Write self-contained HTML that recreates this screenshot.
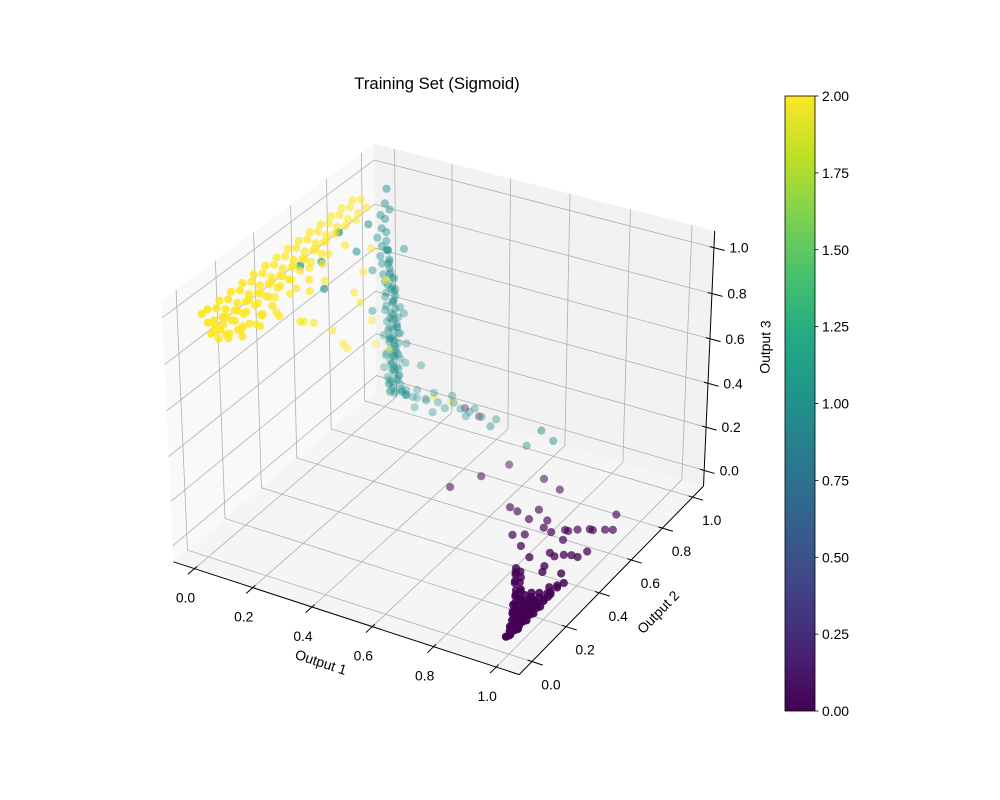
<!DOCTYPE html>
<html><head><meta charset="utf-8">
<style>
html,body{margin:0;padding:0;background:#fff;}
svg{display:block;font-family:"Liberation Sans","DejaVu Sans",sans-serif;}
</style></head>
<body>
<svg id="chart" width="1000" height="800" viewBox="0 0 1000 800" xmlns="http://www.w3.org/2000/svg">
<defs>
<linearGradient id="viridis" x1="0" y1="1" x2="0" y2="0">
<stop offset="0" stop-color="#440154"/><stop offset="0.1" stop-color="#482475"/>
<stop offset="0.2" stop-color="#414487"/><stop offset="0.3" stop-color="#355f8d"/>
<stop offset="0.4" stop-color="#2a788e"/><stop offset="0.5" stop-color="#21918c"/>
<stop offset="0.6" stop-color="#22a884"/><stop offset="0.7" stop-color="#44bf70"/>
<stop offset="0.8" stop-color="#7ad151"/><stop offset="0.9" stop-color="#bddf26"/>
<stop offset="1" stop-color="#fde725"/>
</linearGradient>
</defs>
<text x="437" y="89" font-size="16.7" text-anchor="middle">Training Set (Sigmoid)</text>
<g id="panes"></g>
<g id="grid"></g>
<g id="axes"></g>
<g id="points"></g>
<text x="321" y="667" font-size="13.9" text-anchor="middle" transform="rotate(18.2 321 662)">Output 1</text>
<text x="658" y="617" font-size="13.9" text-anchor="middle" transform="rotate(-46 658 612)">Output 2</text>
<text x="765" y="352" font-size="13.9" text-anchor="middle" transform="rotate(-89 765 347)">Output 3</text>
<g id="colorbar">
<rect x="785" y="96" width="30" height="615" fill="url(#viridis)" stroke="#000" stroke-width="0.8"/>
</g>
</svg>
<script>
const tickValues=[0,0.2,0.4,0.6,0.8,1.0];
const tickLabels=["0.0","0.2","0.4","0.6","0.8","1.0"];
const cbTickValues=[0,0.25,0.5,0.75,1,1.25,1.5,1.75,2];
const cbTickLabels=["0.00","0.25","0.50","0.75","1.00","1.25","1.50","1.75","2.00"];
const class0Points=[
[1.0,0.0,0.01],[0.99,0.0,0.0],[1.0,0.03,0.01],[0.985,0.03,0.0],
[1.0,0.05,0.0],[0.99,0.05,0.01],[0.975,0.05,0.0],
[1.0,0.08,0.01],[0.99,0.08,0.0],[0.975,0.08,0.01],[0.965,0.08,0.0],
[1.0,0.10,0.0],[0.985,0.10,0.01],[0.97,0.10,0.0],[0.955,0.10,0.01],
[1.0,0.12,0.01],[0.985,0.12,0.0],[0.97,0.12,0.01],[0.945,0.12,0.0],
[1.0,0.14,0.0],[0.98,0.14,0.01],[0.96,0.14,0.0],[0.935,0.14,0.01],
[1.0,0.16,0.01],[0.98,0.16,0.0],[0.96,0.16,0.01],[0.93,0.16,0.0],
[1.0,0.18,0.0],[0.975,0.18,0.01],[0.95,0.18,0.0],[0.92,0.18,0.01],
[1.0,0.20,0.01],[0.97,0.20,0.0],[0.94,0.20,0.01],[0.91,0.20,0.0],
[0.99,0.22,0.0],[0.95,0.22,0.01],[0.90,0.22,0.0],
[0.995,0.015,0.0],[0.99,0.04,0.01],[0.98,0.065,0.0],[0.995,0.065,0.0],[0.97,0.09,0.0],[0.99,0.09,0.01],[0.96,0.11,0.0],[0.98,0.11,0.01],[0.99,0.11,0.0],
[0.95,0.13,0.01],[0.975,0.13,0.0],[0.99,0.13,0.01],[0.945,0.15,0.0],[0.97,0.15,0.01],[0.99,0.15,0.0],[0.94,0.17,0.01],[0.965,0.17,0.0],[0.99,0.17,0.01],
[0.93,0.19,0.0],[0.96,0.19,0.01],[0.985,0.19,0.0],[0.92,0.21,0.01],[0.955,0.21,0.0],[0.98,0.21,0.01],[0.91,0.23,0.0],[0.97,0.23,0.01],[0.995,0.235,0.0],
[0.885,0.24,0.01],[0.875,0.26,0.0],[0.865,0.28,0.01],[0.855,0.30,0.0],[0.85,0.31,0.01],[0.89,0.26,0.0],[0.88,0.285,0.0],[0.87,0.30,0.01],
[1.0,0.24,0.01],[0.99,0.26,0.0],[1.0,0.28,0.01],[0.99,0.30,0.0],[0.98,0.27,0.01],[1.0,0.32,0.0],[0.985,0.25,0.0],
[0.75,0.57,0.0],[0.80,0.43,0.0],[0.75,0.47,0.0],[0.81,0.55,0.0],[0.89,0.44,0.0],[0.93,0.45,0.0],[0.97,0.46,0.0],[0.98,0.50,0.0],[0.94,0.61,0.0],[0.97,0.63,0.0],[0.96,0.72,0.0],[0.90,0.59,0.0],[0.88,0.57,0.0],[0.92,0.34,0.0],[0.97,0.36,0.0],[0.67,0.60,0.0],[0.70,0.59,0.0],[0.75,0.63,0.0],[0.80,0.59,0.0],[0.78,0.49,0.0],[0.84,0.54,0.0],[0.87,0.57,0.0],[0.93,0.61,0.0],[0.99,0.64,0.0],[0.85,0.39,0.0],[0.91,0.43,0.0],[0.95,0.46,0.0],[0.89,0.52,0.0],[0.91,0.37,0.0],[0.46,0.61,0.0],[0.51,0.71,0.0],[0.55,0.81,0.0],[0.68,0.79,0.0],[0.75,0.76,0.0],[0.30,0.98,0.05],[0.35,0.98,0.03]];
const class1Points=[
[0.04,0.97,0.04],[0.06,0.96,0.04],[0.08,0.97,0.05],[0.05,0.95,0.05],[0.03,0.98,0.06],[0.07,0.95,0.06],[0.10,0.96,0.05],[0.05,0.97,0.07],
[0.04,0.96,0.08],[0.06,0.98,0.09],[0.09,0.95,0.08],[0.03,0.97,0.10],[0.05,0.95,0.11],[0.07,0.97,0.12],[0.04,0.98,0.13],[0.06,0.96,0.14],
[0.05,0.97,0.15],[0.03,0.95,0.16],[0.07,0.96,0.17],[0.04,0.97,0.18],[0.06,0.95,0.19],[0.05,0.98,0.20],[0.03,0.96,0.21],[0.07,0.97,0.22],
[0.04,0.95,0.23],[0.06,0.97,0.24],[0.05,0.96,0.25],[0.03,0.98,0.26],[0.07,0.95,0.27],[0.04,0.97,0.28],[0.06,0.96,0.29],[0.05,0.97,0.30],
[0.03,0.95,0.31],[0.07,0.97,0.32],[0.04,0.96,0.33],[0.06,0.98,0.34],[0.05,0.95,0.35],[0.03,0.97,0.36],[0.07,0.96,0.37],[0.04,0.97,0.38],
[0.06,0.95,0.39],[0.05,0.97,0.40],[0.03,0.96,0.42],[0.06,0.97,0.43],[0.04,0.95,0.45],[0.05,0.97,0.46],[0.03,0.96,0.48],[0.06,0.97,0.49],
[0.04,0.95,0.51],[0.05,0.97,0.53],[0.03,0.96,0.55],[0.05,0.97,0.57],[0.03,0.95,0.59],[0.04,0.97,0.61],[0.02,0.96,0.63],[0.04,0.97,0.65],
[0.02,0.95,0.67],[0.03,0.97,0.69],[0.02,0.96,0.71],[0.03,0.97,0.73],[0.01,0.95,0.75],[0.03,0.97,0.77],[0.02,0.96,0.79],[0.02,0.98,0.82],
[0.01,0.97,0.84],[0.03,0.99,0.86],[0.02,0.98,0.89],[0.02,0.99,0.95],
[0.05,0.97,0.055],[0.07,0.98,0.075],[0.05,0.96,0.095],[0.07,0.96,0.115],[0.05,0.98,0.135],[0.07,0.97,0.155],[0.05,0.96,0.175],[0.07,0.98,0.195],
[0.05,0.97,0.215],[0.07,0.96,0.235],[0.05,0.98,0.255],[0.07,0.97,0.275],[0.05,0.96,0.295],[0.07,0.98,0.315],[0.05,0.97,0.335],[0.07,0.96,0.355],
[0.05,0.98,0.375],[0.07,0.97,0.395],[0.05,0.96,0.415],[0.07,0.98,0.435],[0.05,0.97,0.455],[0.06,0.96,0.475],[0.05,0.98,0.50],[0.06,0.97,0.52],
[0.04,0.96,0.54],[0.05,0.98,0.56],[0.04,0.97,0.58],[0.05,0.96,0.60],[0.03,0.98,0.62],[0.04,0.97,0.64],[0.03,0.98,0.68],[0.04,0.96,0.70],
[0.09,0.94,0.15],[0.10,0.96,0.20],[0.08,0.92,0.25],[0.11,0.95,0.30],[0.12,0.93,0.10],[0.08,0.90,0.35],[0.02,0.90,0.45],[0.07,0.93,0.55],[0.01,0.92,0.62],[0.08,0.99,0.70],[0.09,0.97,0.42],[0.10,0.94,0.08],
[0.12,0.97,0.04],[0.14,0.96,0.05],[0.16,0.98,0.04],[0.18,0.95,0.06],[0.21,0.97,0.05],[0.24,0.96,0.04],[0.26,0.98,0.06],[0.29,0.97,0.05],[0.32,0.95,0.04],[0.34,0.97,0.07],[0.37,0.96,0.05],[0.15,0.93,0.03],[0.22,0.92,0.04],[0.13,0.98,0.07],[0.19,0.98,0.08],[0.11,0.95,0.06],[0.09,0.98,0.03],
[0.41,0.98,0.04],[0.31,0.99,0.03],[0.26,0.97,0.10],[0.15,0.97,0.20],[0.61,0.90,0.12],[0.44,0.89,0.08],[0.56,0.90,0.03],[0.64,0.92,0.07],
[0.02,0.50,0.90],[0.03,0.60,0.86],[0.05,0.58,0.76],[0.04,0.78,0.80],[0.04,0.85,0.88],[0.03,0.70,0.93]];
const class2Points=[
[0.01,0.00,1.0],[0.03,0.00,0.97],[0.05,0.00,0.94],
[0.01,0.03,1.0],[0.03,0.03,0.96],[0.05,0.03,0.93],[0.02,0.03,0.90],
[0.02,0.06,0.99],[0.04,0.06,0.96],[0.01,0.06,0.92],[0.05,0.06,0.89],
[0.01,0.09,1.0],[0.03,0.09,0.97],[0.05,0.09,0.93],[0.02,0.09,0.90],[0.04,0.09,0.87],
[0.02,0.12,0.99],[0.04,0.12,0.95],[0.01,0.12,0.91],[0.05,0.12,0.87],
[0.01,0.15,1.0],[0.03,0.15,0.96],[0.05,0.15,0.92],[0.02,0.15,0.88],[0.04,0.15,0.85],
[0.02,0.18,0.99],[0.04,0.18,0.95],[0.01,0.18,0.90],[0.05,0.18,0.86],
[0.01,0.21,1.0],[0.03,0.21,0.96],[0.05,0.21,0.92],[0.02,0.21,0.88],
[0.02,0.24,0.99],[0.04,0.24,0.95],[0.01,0.24,0.91],[0.05,0.24,0.86],
[0.01,0.27,1.0],[0.03,0.27,0.96],[0.05,0.27,0.92],[0.02,0.27,0.88],
[0.02,0.30,0.99],[0.04,0.30,0.95],[0.01,0.30,0.90],[0.05,0.30,0.86],
[0.01,0.33,1.0],[0.03,0.33,0.96],[0.05,0.33,0.92],[0.02,0.33,0.87],
[0.02,0.36,0.99],[0.04,0.36,0.95],[0.01,0.36,0.91],
[0.01,0.39,1.0],[0.03,0.39,0.96],[0.05,0.39,0.92],[0.02,0.39,0.88],
[0.02,0.42,0.99],[0.04,0.42,0.95],[0.01,0.42,0.90],
[0.01,0.45,1.0],[0.03,0.45,0.96],[0.05,0.45,0.92],[0.02,0.45,0.87],
[0.02,0.48,0.99],[0.04,0.48,0.95],[0.01,0.48,0.91],
[0.01,0.51,1.0],[0.03,0.51,0.96],[0.05,0.51,0.92],
[0.02,0.54,0.99],[0.04,0.54,0.95],[0.01,0.54,0.90],
[0.01,0.57,1.0],[0.03,0.57,0.96],[0.05,0.57,0.92],
[0.02,0.60,0.99],[0.04,0.60,0.95],[0.01,0.60,0.91],
[0.01,0.63,1.0],[0.03,0.63,0.96],
[0.02,0.66,0.99],[0.04,0.66,0.95],[0.01,0.66,0.91],
[0.01,0.69,1.0],[0.03,0.69,0.96],
[0.02,0.72,0.99],[0.04,0.72,0.95],[0.01,0.72,0.91],
[0.01,0.75,1.0],[0.03,0.75,0.96],
[0.02,0.78,0.99],[0.04,0.78,0.94],
[0.01,0.81,1.0],[0.03,0.81,0.95],
[0.02,0.84,0.99],[0.04,0.84,0.96],
[0.03,0.10,0.84],[0.05,0.14,0.83],[0.02,0.19,0.83],[0.04,0.23,0.82],[0.03,0.28,0.83],[0.05,0.32,0.82],[0.02,0.36,0.85],[0.04,0.41,0.84],[0.03,0.46,0.83],[0.05,0.50,0.85],[0.02,0.55,0.86],[0.04,0.59,0.86],[0.03,0.64,0.87],[0.05,0.70,0.88],[0.03,0.05,0.87],[0.04,0.26,0.84],
[0.05,0.68,0.45],[0.04,0.72,0.40],[0.03,0.55,0.62],[0.06,0.45,0.70],[0.04,0.35,0.78],[0.08,0.40,0.74],[0.05,0.62,0.55],[0.07,0.75,0.60],[0.05,0.80,0.70],[0.10,0.85,0.65],[0.03,0.88,0.75],[0.08,0.70,0.68],[0.04,0.25,0.80],[0.05,0.50,0.80],[0.04,0.60,0.78],
[0.19,0.98,0.06],[0.25,0.98,0.06],[0.05,0.95,0.25],[0.03,0.90,0.30],[0.05,0.85,0.45]];
const classColors=["#440154","#21918c","#fde725"];

const NS="http://www.w3.org/2000/svg";
const lim=[-0.073,1.073];
const el=30*Math.PI/180, az=-60*Math.PI/180, dist=10;
let asp=[4,4,3]; const an=Math.hypot(...asp); asp=asp.map(a=>a*1.8294640721620434/an);
const R=asp.map(a=>a/2);
const ps=[Math.cos(el)*Math.cos(az),Math.cos(el)*Math.sin(az),Math.sin(el)];
const eye=R.map((r,i)=>r+dist*ps[i]);
function norm(v){const n=Math.hypot(...v);return v.map(a=>a/n);}
function cross(a,b){return [a[1]*b[2]-a[2]*b[1],a[2]*b[0]-a[0]*b[2],a[0]*b[1]-a[1]*b[0]];}
const W=norm(eye.map((e,i)=>e-R[i])); const U=norm(cross([0,0,1],W)); const V=cross(W,U);
function dot(a,b){return a[0]*b[0]+a[1]*b[1]+a[2]*b[2];}
function projBox(f){
  const p=[f[0]*asp[0]-eye[0],f[1]*asp[1]-eye[1],f[2]*asp[2]-eye[2]];
  const xv=dot(U,p), yv=dot(V,p), zv=dot(W,p);
  return [xv/(-zv), yv/(-zv), -zv];
}
function frac(v){return (v-lim[0])/(lim[1]-lim[0]);}
const corners=[[[0,0,0],[175,559]],[[1,0,0],[522,673]],[[1,1,0],[702,487]],[[1,1,1],[717,230]],[[0,1,1],[377,142]],[[0,0,1],[163,297]],[[0,1,0],[367,400]]];
function fit(k){let n=corners.length,sx=0,sy=0,sxx=0,sxy=0;
  corners.forEach(c=>{const p=projBox(c[0]);const a=p[k],b=c[1][k];sx+=a;sy+=b;sxx+=a*a;sxy+=a*b;});
  const s=(n*sxy-sx*sy)/(n*sxx-sx*sx);return [s,(sy-s*sx)/n];}
const FX=fit(0), FY=fit(1);
function toPx(f){const p=projBox(f);return [FX[1]+FX[0]*p[0], FY[1]+FY[0]*p[1], p[2]];}
function P(x,y,z){return toPx([frac(x),frac(y),frac(z)]);}
function mk(tag,attrs,parent){const e=document.createElementNS(NS,tag);for(const k in attrs)e.setAttribute(k,attrs[k]);parent.appendChild(e);return e;}
function pts(arr){return arr.map(p=>p[0].toFixed(1)+","+p[1].toFixed(1)).join(" ");}

const panes=document.getElementById('panes');
let pg;
pg=mk('polygon',{points:pts([toPx([0,0,0]),toPx([0,1,0]),toPx([0,1,1]),toPx([0,0,1])]),fill:'#f9f9f9'},panes);


pg=mk('polygon',{points:pts([toPx([0,1,0]),toPx([1,1,0]),toPx([1,1,1]),toPx([0,1,1])]),fill:'#f2f2f2'},panes);


pg=mk('polygon',{points:pts([toPx([0,0,0]),toPx([1,0,0]),toPx([1,1,0]),toPx([0,1,0])]),fill:'#f5f5f5'},panes);



const grid=document.getElementById('grid');
tickValues.forEach(t=>{
  const f=frac(t);
  let g=mk('polyline',{points:pts([toPx([f,0,0]),toPx([f,1,0]),toPx([f,1,1])]),fill:'none',stroke:'#b0b0b0','stroke-width':0.8},grid);
  
  
  g=mk('polyline',{points:pts([toPx([1,f,0]),toPx([0,f,0]),toPx([0,f,1])]),fill:'none',stroke:'#b0b0b0','stroke-width':0.8},grid);
  
  
  g=mk('polyline',{points:pts([toPx([0,0,f]),toPx([0,1,f]),toPx([1,1,f])]),fill:'none',stroke:'#b0b0b0','stroke-width':0.8},grid);
  
  
});

const axes=document.getElementById('axes');
let ln;
ln=mk('polyline',{points:pts([toPx([0,0,0]),toPx([1,0,0])]),stroke:'#000','stroke-width':1,fill:'none'},axes);


ln=mk('polyline',{points:pts([toPx([1,0,0]),toPx([1,1,0])]),stroke:'#000','stroke-width':1,fill:'none'},axes);


ln=mk('polyline',{points:pts([toPx([1,1,0]),toPx([1,1,1])]),stroke:'#000','stroke-width':1,fill:'none'},axes);


tickValues.forEach((t,i)=>{
  const f=frac(t);
  let a=toPx([f,0.012,0]),b=toPx([f,-0.03,0]);
  let tk=mk('line',{x1:a[0],y1:a[1],x2:b[0],y2:b[1],stroke:'#000','stroke-width':1},axes);
  
  
  let p=toPx([f,0,0]);
  let tx=mk('text',{x:p[0]-9,y:p[1]+34,'font-size':13.9,'text-anchor':'middle'},axes);
  tx.textContent=tickLabels[i];
  
  
  a=toPx([0.988,f,0]);b=toPx([1.03,f,0]);
  tk=mk('line',{x1:a[0],y1:a[1],x2:b[0],y2:b[1],stroke:'#000','stroke-width':1},axes);
  
  
  p=toPx([1,f,0]);
  tx=mk('text',{x:p[0]+19,y:p[1]+28,'font-size':13.9,'text-anchor':'middle'},axes);
  tx.textContent=tickLabels[i];
  
  
  a=toPx([0.988,1,f]);b=toPx([1.03,1,f]);
  tk=mk('line',{x1:a[0],y1:a[1],x2:b[0],y2:b[1],stroke:'#000','stroke-width':1},axes);
  
  
  p=toPx([1,1,f]);
  tx=mk('text',{x:p[0]+25,y:p[1]+5,'font-size':13.9,'text-anchor':'middle'},axes);
  tx.textContent=tickLabels[i];
  
  
});

const all=[];
[class0Points,class1Points,class2Points].forEach((arr,ci)=>arr.forEach(q=>{const s=P(q[0],q[1],q[2]);all.push({s,c:ci});}));
const ds=all.map(o=>-1/o.s[2]);const dmin=Math.min(...ds),dmax=Math.max(...ds);
all.forEach((o,i)=>o.d=ds[i]);
all.sort((a,b)=>b.d-a.d);
const pg2=document.getElementById('points');
all.forEach(o=>{
  const alpha=1-0.7*(o.d-dmin)/(dmax-dmin);
  const c=mk('circle',{cx:o.s[0].toFixed(1),cy:o.s[1].toFixed(1),r:4.1,fill:classColors[o.c],'fill-opacity':alpha.toFixed(3)},pg2);
  
  
});

const cb=document.getElementById('colorbar');
function cbY(v){return 711-(v-0)/(2-0)*615;}
cbTickValues.forEach((v,i)=>{
  const y=cbY(v);
  const t=mk('line',{x1:815,y1:y,x2:818.5,y2:y,stroke:'#000','stroke-width':0.8},cb);
  
  
  const tx=mk('text',{x:822,y:y+5,'font-size':13.9},cb);
  tx.textContent=cbTickLabels[i];
  
  
});
</script>
</body></html>
